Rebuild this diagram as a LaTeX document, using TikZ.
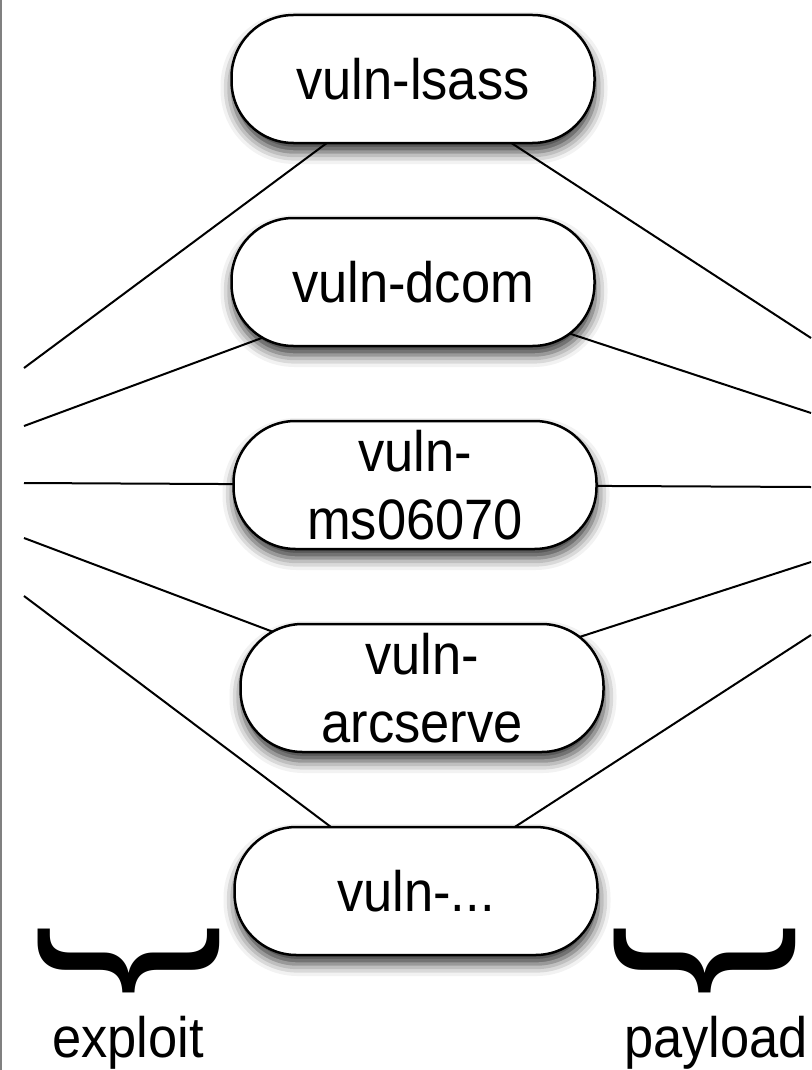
\documentclass[tikz,border=0pt]{standalone}
\usepackage{fontspec}
\setmainfont{Liberation Sans}[FakeStretch=0.92]
\usepackage{graphicx}
\usetikzlibrary{shadows.blur,backgrounds}

\newcommand{\bigbrace}{\scalebox{0.84}[1]{\rotatebox{-90}{\fontsize{232}{232}\selectfont\}}}}

\tikzset{
  vuln/.style={draw, line width=2.5pt, fill=white, rounded corners=62pt,
    minimum width=363pt, minimum height=128pt, inner sep=0pt, align=center,
    font=\fontsize{57}{68}\selectfont,
    blur shadow={shadow xshift=1pt, shadow yshift=-9pt, shadow blur radius=12pt, shadow opacity=80}},
  link/.style={line width=2pt},
  lbl/.style={font=\fontsize{57}{68}\selectfont, anchor=base, inner sep=0pt}
}

\begin{document}
\begin{tikzpicture}[x=1pt,y=-1pt]
\useasboundingbox (0,0) rectangle (811,1070);
\draw[gray, line width=1.5pt] (1,0) -- (1,1070);

% the vulnerability modules
\node[vuln] (lsass) at (413,79) {vuln-lsass};
\node[vuln] (dcom) at (413,282) {vuln-dcom};
\node[vuln] (ms) at (415,485) {vuln-\\ms06070};
\node[vuln] (arc) at (422,688) {vuln-\\arcserve};
\node[vuln] (etc) at (416,891) {vuln-...};

% exploit side and payload side
\begin{scope}[on background layer]
\foreach \n/\l/\r in {lsass/368/338, dcom/426/413, ms/483/487, arc/538/562, etc/596/635}{
  \coordinate (ex-\n) at (24,\l);
  \coordinate (pl-\n) at (811,\r);
  \draw[link] (ex-\n) -- (\n.center) -- (pl-\n);
}
\end{scope}

\node[inner sep=0pt] (xbrace) at (129,961) {\bigbrace};
\node[inner sep=0pt] (pbrace) at (705,961) {\bigbrace};
\node[lbl] (exploit) at (128,1057) {exploit};
\node[lbl] (payload) at (716,1057) {payload};
\end{tikzpicture}
\end{document}
